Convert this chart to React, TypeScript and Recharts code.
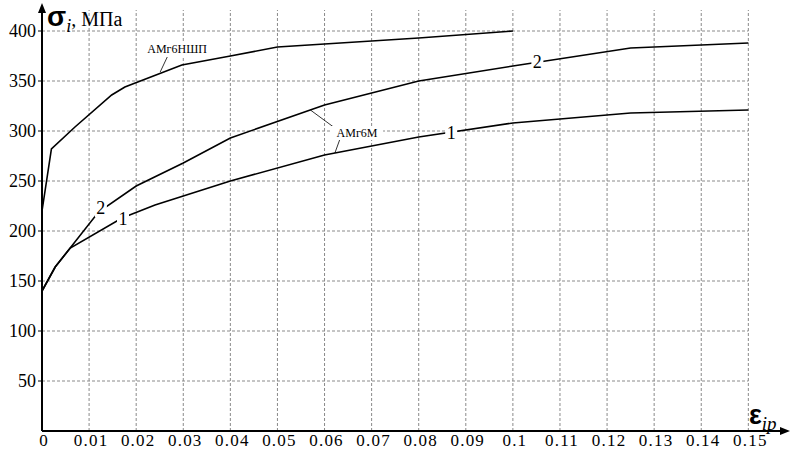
import { LineChart, Line, XAxis, YAxis, ReferenceLine, ReferenceDot } from 'recharts'

// σi (MPa) vs εip for the three curves
const amg6nshp = [
  { x: 0, y: 220 }, { x: 0.002, y: 282 }, { x: 0.007, y: 304 }, { x: 0.0148, y: 336 },
  { x: 0.0176, y: 344 }, { x: 0.0297, y: 366 }, { x: 0.04, y: 375 }, { x: 0.05, y: 384 },
  { x: 0.06, y: 387 }, { x: 0.08, y: 393 }, { x: 0.1, y: 400 },
]
const curve2 = [
  { x: 0, y: 140 }, { x: 0.0028, y: 164 }, { x: 0.012, y: 219 },
  { x: 0.02, y: 245 }, { x: 0.03, y: 268 }, { x: 0.04, y: 293 }, { x: 0.06, y: 326 },
  { x: 0.08, y: 350 }, { x: 0.1, y: 365 }, { x: 0.125, y: 383 }, { x: 0.15, y: 388 },
]
const curve1 = [
  { x: 0, y: 140 }, { x: 0.0028, y: 164 }, { x: 0.006, y: 183 }, { x: 0.017, y: 213 },
  { x: 0.024, y: 226 }, { x: 0.03, y: 235 }, { x: 0.04, y: 250 }, { x: 0.06, y: 276 },
  { x: 0.08, y: 294 }, { x: 0.1, y: 308 }, { x: 0.125, y: 318 }, { x: 0.15, y: 321 },
]

const xTicks = [0, 0.01, 0.02, 0.03, 0.04, 0.05, 0.06, 0.07, 0.08, 0.09, 0.1, 0.11, 0.12, 0.13, 0.14, 0.15]
const yTicks = [50, 100, 150, 200, 250, 300, 350, 400]

// curve number labels placed on the lines
const curveLabels = [
  { x: 0.0172, y: 212, text: '1' },
  { x: 0.0869, y: 298, text: '1' },
  { x: 0.0125, y: 223, text: '2' },
  { x: 0.1052, y: 369, text: '2' },
]

// material labels and their leader lines
const materialLabels = [
  { x: 0.0287, y: 382, text: 'АМг6НШП' },
  { x: 0.0669, y: 298, text: 'АМг6М' },
]
const leaders = [
  [{ x: 0.0266, y: 374 }, { x: 0.0251, y: 359 }],
  [{ x: 0.0622, y: 303 }, { x: 0.057, y: 321 }],
  [{ x: 0.0632, y: 291 }, { x: 0.0622, y: 278 }],
]

const serif = 'Liberation Serif, Times New Roman, serif'
const gridStyle = { stroke: '#8a8a8a', strokeDasharray: '3 2', strokeWidth: 1 }

const fmt = (v: number) => String(Number(v.toFixed(2)))

const XTick = (p: any) => (
  <text x={p.x + 2} y={p.y + 9} textAnchor="middle" fill="#000" fontSize={17} letterSpacing={1.2} style={{ fontFamily: serif }}>
    {fmt(p.payload.value)}
  </text>
)

const YTick = (p: any) => (
  <text x={p.x - 1} y={p.y + 6} textAnchor="end" fill="#000" fontSize={18} style={{ fontFamily: serif }}>
    {p.payload.value}
  </text>
)

export default function App() {
  return (
    <div style={{ position: 'absolute', left: 0, top: 0, width: 791, height: 452, background: '#fff' }}>
      <LineChart width={791} height={452} margin={{ top: 6, right: 5, left: 0, bottom: 0 }}>
        <XAxis
          type="number"
          dataKey="x"
          domain={[0, 0.158]}
          ticks={xTicks}
          height={21}
          axisLine={{ stroke: '#000', strokeWidth: 2 }}
          tickLine={false}
          tick={XTick}
          tickMargin={0}
          interval={0}
          allowDataOverflow
        />
        <YAxis
          type="number"
          domain={[0, 425]}
          ticks={yTicks}
          width={42}
          axisLine={{ stroke: '#000', strokeWidth: 2 }}
          tickLine={{ stroke: '#000' }}
          tickSize={4}
          tick={YTick}
          tickMargin={1}
          allowDataOverflow
        />
        {yTicks.map((v) => (
          <ReferenceLine key={`h${v}`} segment={[{ x: 0, y: v }, { x: 0.15, y: v }]} {...gridStyle} />
        ))}
        {xTicks.slice(1).map((v) => (
          <ReferenceLine key={`v${v}`} segment={[{ x: v, y: 0 }, { x: v, y: 421 }]} {...gridStyle} />
        ))}
        {leaders.map((s, i) => (
          <ReferenceLine key={`l${i}`} segment={s} stroke="#000" strokeWidth={0.8} />
        ))}
        <Line data={amg6nshp} dataKey="y" type="linear" stroke="#000" strokeWidth={1.6} dot={false} isAnimationActive={false} />
        <Line data={curve2} dataKey="y" type="linear" stroke="#000" strokeWidth={1.6} dot={false} isAnimationActive={false} />
        <Line data={curve1} dataKey="y" type="linear" stroke="#000" strokeWidth={1.6} dot={false} isAnimationActive={false} />
        {curveLabels.map((l, i) => (
          <ReferenceDot
            key={`c${i}`}
            x={l.x}
            y={l.y}
            ifOverflow="visible"
            shape={(p: any) => (
              <g>
                <rect x={p.cx - 6} y={p.cy - 9} width={12} height={18} fill="#fff" />
                <text x={p.cx} y={p.cy + 6} textAnchor="middle" fontSize={18} style={{ fontFamily: serif }} fill="#000">
                  {l.text}
                </text>
              </g>
            )}
          />
        ))}
        {materialLabels.map((l, i) => (
          <ReferenceDot
            key={`m${i}`}
            x={l.x}
            y={l.y}
            ifOverflow="visible"
            shape={(p: any) => (
              <g>
                <rect x={p.cx - 26} y={p.cy - 7} width={52} height={14} fill="#fff" />
                <text x={p.cx} y={p.cy + 4} textAnchor="middle" fontSize={12} style={{ fontFamily: serif }} fill="#000">
                  {l.text}
                </text>
              </g>
            )}
          />
        ))}
        <ReferenceDot
          x={0.158}
          y={0}
          ifOverflow="visible"
          shape={(p: any) => <path d={`M${p.cx + 4},${p.cy} L${p.cx - 6},${p.cy - 4} L${p.cx - 6},${p.cy + 4} Z`} fill="#000" />}
        />
        <ReferenceDot
          x={0}
          y={425}
          ifOverflow="visible"
          shape={(p: any) => <path d={`M${p.cx},${p.cy - 3} L${p.cx - 4},${p.cy + 7} L${p.cx + 4},${p.cy + 7} Z`} fill="#000" />}
        />
      </LineChart>
      <div style={{ position: 'absolute', left: 47, top: 3, whiteSpace: 'nowrap', color: '#000', lineHeight: '28px' }}>
        <span style={{ fontFamily: 'Liberation Sans, sans-serif', fontWeight: 'bold', fontSize: 28 }}>σ</span>
        <span style={{ fontFamily: serif, fontStyle: 'italic', fontSize: 18, position: 'relative', top: 6 }}>i</span>
        <span style={{ fontFamily: serif, fontSize: 20 }}>, МПа</span>
      </div>
      <div style={{ position: 'absolute', left: 749, top: 401, whiteSpace: 'nowrap', color: '#000', lineHeight: '28px' }}>
        <span style={{ fontFamily: 'Liberation Sans, sans-serif', fontWeight: 'bold', fontSize: 27 }}>ε</span>
        <span style={{ fontFamily: serif, fontStyle: 'italic', fontSize: 19, position: 'relative', top: 6 }}>ip</span>
      </div>
    </div>
  )
}
